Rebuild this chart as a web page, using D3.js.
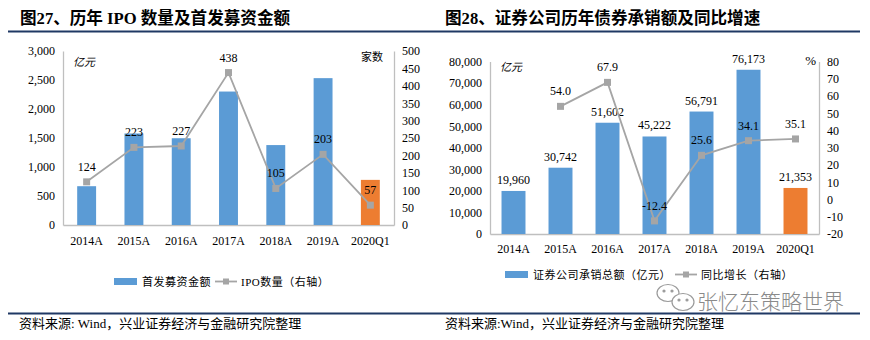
<!DOCTYPE html>
<html><head><meta charset="utf-8">
<script src="https://cdn.jsdelivr.net/npm/d3@7"></script>
<style>html,body{margin:0;padding:0;background:#fff;}svg{display:block;}</style>
</head><body>
<svg id="chart" width="870" height="340"></svg>
<script>
// ---------- data ----------
const ipoCategories = ["2014A","2015A","2016A","2017A","2018A","2019A","2020Q1"];
const ipoAmount = [669, 1578, 1496, 2301, 1378, 2532, 778];       // 首发募资金额（亿元）
const ipoCount = [124, 223, 227, 438, 105, 203, 57];              // IPO数量（家）
const ipoLeftTicks = [0, 500, 1000, 1500, 2000, 2500, 3000];
const ipoRightTicks = [0, 50, 100, 150, 200, 250, 300, 350, 400, 450, 500];

const bondCategories = ["2014A","2015A","2016A","2017A","2018A","2019A","2020Q1"];
const bondAmount = [19960, 30742, 51602, 45222, 56791, 76173, 21353]; // 证券公司承销总额（亿元）
const bondGrowth = [null, 54.0, 67.9, -12.4, 25.6, 34.1, 35.1];       // 同比增长（%）
const bondLeftTicks = [0, 10000, 20000, 30000, 40000, 50000, 60000, 70000, 80000];
const bondRightTicks = [-20, -10, 0, 10, 20, 30, 40, 50, 60, 70, 80];

// ---------- style ----------
const serif = "'Liberation Serif','Times New Roman',serif";
const cjk = "'Noto Sans CJK SC','Noto Sans',sans-serif";
const mixed = "'Liberation Serif','Noto Sans CJK SC',serif";
const BLUE = "#5b9bd5", ORANGE = "#ed7d31", GRAY = "#a5a5a5", AXIS = "#bfbfbf", NAVY = "#1f3864";
const hyphen = f => (v => f(v).replace("\u2212", "-"));

const svg = d3.select("#chart");
svg.append("rect").attr("width", 870).attr("height", 340).attr("fill", "#fff");

// rules
svg.append("line").attr("x1", 8).attr("x2", 860).attr("y1", 31.5).attr("y2", 31.5)
  .attr("stroke", NAVY).attr("stroke-width", 2);
svg.append("line").attr("x1", 8).attr("x2", 860).attr("y1", 313.5).attr("y2", 313.5)
  .attr("stroke", NAVY).attr("stroke-width", 2);

// titles
svg.append("text").attr("x", 20).attr("y", 24).attr("font-family", mixed).attr("font-weight", "bold")
  .attr("font-size", 16.6).attr("fill", "#000").text("图27、历年 IPO 数量及首发募资金额");
svg.append("text").attr("x", 445).attr("y", 24).attr("font-family", mixed).attr("font-weight", "bold")
  .attr("font-size", 16.6).attr("fill", "#000").text("图28、证券公司历年债券承销额及同比增速");

// footers
svg.append("text").attr("x", 19).attr("y", 328).attr("font-family", mixed).attr("font-size", 13)
  .attr("fill", "#000").text("资料来源: Wind，兴业证券经济与金融研究院整理");
svg.append("text").attr("x", 445).attr("y", 328).attr("font-family", mixed).attr("font-size", 13)
  .attr("fill", "#000").text("资料来源:Wind，兴业证券经济与金融研究院整理");

function drawChart(o) {
  const g = svg.append("g");
  const x = d3.scaleBand().domain(o.cats).range([o.x0, o.x1])
    .paddingInner(o.pad).paddingOuter(o.pad / 2);
  const yL = d3.scaleLinear().domain(o.leftDomain).range([o.yBottom, o.yTop]);
  const yR = d3.scaleLinear().domain(o.rightDomain).range([o.yBottom, o.yTop]);

  // axes
  const axL = g.append("g").attr("transform", `translate(${o.x0},0)`)
    .call(d3.axisLeft(yL).tickValues(o.leftTicks).tickSize(0).tickSizeOuter(0).tickPadding(8)
      .tickFormat(d3.format(",")));
  const axR = g.append("g").attr("transform", `translate(${o.x1},0)`)
    .call(d3.axisRight(yR).tickValues(o.rightTicks).tickSize(0).tickSizeOuter(0).tickPadding(8)
      .tickFormat(hyphen(d3.format("d"))));
  const axB = g.append("g").attr("transform", `translate(0,${o.yBottom})`)
    .call(d3.axisBottom(x).tickSize(0).tickSizeOuter(0).tickPadding(o.xPad));
  [axL, axR, axB].forEach(a => {
    a.select(".domain").attr("stroke", AXIS).attr("stroke-width", 1.3);
    a.selectAll("text").attr("font-family", serif).attr("font-size", 12).attr("fill", "#000");
  });

  // bars
  g.selectAll(".bar").data(o.bars).join("rect")
    .attr("x", (d, i) => x(o.cats[i]))
    .attr("width", x.bandwidth())
    .attr("y", d => yL(d))
    .attr("height", d => yL(o.leftDomain[0]) - yL(d))
    .attr("fill", (d, i) => i === o.cats.length - 1 ? ORANGE : BLUE);

  if (o.barLabels) {
    g.selectAll(".blab").data(o.bars).join("text")
      .attr("x", (d, i) => x(o.cats[i]) + x.bandwidth() / 2)
      .attr("y", d => yL(d) - 7)
      .attr("text-anchor", "middle").attr("font-family", serif).attr("font-size", 12)
      .text(d => d3.format(",")(d));
  }

  // line
  const pts = o.line.map((v, i) => ({ v, c: o.cats[i] })).filter(p => p.v !== null);
  const line = d3.line().x(p => x(p.c) + x.bandwidth() / 2).y(p => yR(p.v));
  g.append("path").attr("d", line(pts)).attr("fill", "none").attr("stroke", GRAY).attr("stroke-width", 1.8);
  g.selectAll(".mk").data(pts).join("rect")
    .attr("x", p => x(p.c) + x.bandwidth() / 2 - 3.5)
    .attr("y", p => yR(p.v) - 3.5)
    .attr("width", 7).attr("height", 7).attr("fill", GRAY);
  g.selectAll(".llab").data(pts).join("text")
    .attr("x", p => x(p.c) + x.bandwidth() / 2)
    .attr("y", p => yR(p.v) - 11)
    .attr("text-anchor", "middle").attr("font-family", serif).attr("font-size", 12)
    .text(p => hyphen(o.lineFmt)(p.v));

  // unit labels
  g.append("text").attr("x", o.unitL[0]).attr("y", o.unitL[1]).attr("font-family", cjk)
    .attr("font-size", 11).attr("font-style", "italic").text(o.unitL[2]);
  g.append("text").attr("x", o.unitR[0]).attr("y", o.unitR[1]).attr("font-family", o.unitR[3])
    .attr("font-size", o.unitR[4]).attr("text-anchor", "end").text(o.unitR[2]);

  // legend
  const lg = g.append("g").attr("transform", `translate(${o.legend[0]},${o.legend[1]})`);
  lg.append("rect").attr("x", 0).attr("y", -3.5).attr("width", 23).attr("height", 7).attr("fill", BLUE);
  const t1 = lg.append("text").attr("x", 28).attr("y", 4).attr("font-family", mixed).attr("font-size", 11)
    .attr("letter-spacing", 0.5).text(o.legendNames[0]);
  const w1 = t1.node().getComputedTextLength() + 28 + 4;
  lg.append("line").attr("x1", w1).attr("x2", w1 + 22).attr("y1", 0).attr("y2", 0)
    .attr("stroke", GRAY).attr("stroke-width", 1.8);
  lg.append("rect").attr("x", w1 + 8).attr("y", -3).attr("width", 6).attr("height", 6).attr("fill", GRAY);
  lg.append("text").attr("x", w1 + 26).attr("y", 4).attr("font-family", mixed).attr("font-size", 11)
    .attr("letter-spacing", 0.5).text(o.legendNames[1]);
}

drawChart({
  cats: ipoCategories, bars: ipoAmount, line: ipoCount,
  x0: 63, x1: 394, pad: 0.6, yTop: 51, yBottom: 225, xPad: 11.5,
  leftDomain: [0, 3000], rightDomain: [0, 500],
  leftTicks: ipoLeftTicks, rightTicks: ipoRightTicks,
  barLabels: false, lineFmt: d3.format("d"),
  unitL: [73, 66, "亿元"], unitR: [383, 61, "家数", cjk, 11],
  legend: [114, 281.5], legendNames: ["首发募资金额", "IPO数量（右轴）"]
});

drawChart({
  cats: bondCategories, bars: bondAmount, line: bondGrowth,
  x0: 490, x1: 819, pad: 0.49, yTop: 61.5, yBottom: 234, xPad: 10.5,
  leftDomain: [0, 80000], rightDomain: [-20, 80],
  leftTicks: bondLeftTicks, rightTicks: bondRightTicks,
  barLabels: true, lineFmt: d3.format(".1f"),
  unitL: [500, 71, "亿元"], unitR: [816, 65, "%", serif, 13],
  legend: [505, 274.5], legendNames: ["证券公司承销总额（亿元）", "同比增长（右轴）"]
});

// watermark
const wm = svg.append("g").attr("fill", "none").attr("stroke", "#9a9a9a").attr("stroke-width", 1.2);
wm.append("ellipse").attr("cx", 668).attr("cy", 293).attr("rx", 11).attr("ry", 8.5);
wm.append("ellipse").attr("cx", 683).attr("cy", 302).attr("rx", 11).attr("ry", 8.5).attr("fill", "#fff");
wm.append("circle").attr("cx", 664).attr("cy", 291).attr("r", 1).attr("fill", "#9a9a9a");
wm.append("circle").attr("cx", 672).attr("cy", 291).attr("r", 1).attr("fill", "#9a9a9a");
wm.append("circle").attr("cx", 679).attr("cy", 300).attr("r", 1).attr("fill", "#9a9a9a");
wm.append("circle").attr("cx", 687).attr("cy", 300).attr("r", 1).attr("fill", "#9a9a9a");
svg.append("text").attr("x", 697).attr("y", 309).attr("font-family", cjk).attr("font-size", 21)
  .attr("fill", "#8a8a8a").attr("font-weight", 300).text("张忆东策略世界");
</script>
</body></html>
